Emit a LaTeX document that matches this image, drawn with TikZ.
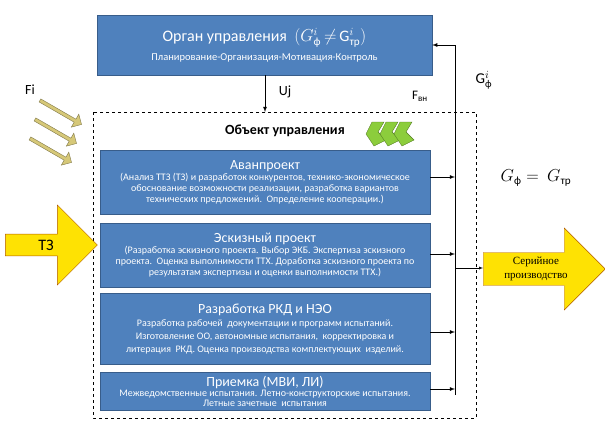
\documentclass[tikz,border=0pt]{standalone}
\usepackage{fontspec}
\setmainfont{Carlito}
\newfontfamily\serifru{Liberation Serif}
\usepackage{amsmath}
\usepackage{xcolor}
\usetikzlibrary{shapes.arrows}
\definecolor{boxblue}{RGB}{79,129,189}
\definecolor{boxedge}{RGB}{56,93,138}
\definecolor{gold}{RGB}{214,200,120}
\definecolor{leaf}{RGB}{140,205,60}
\tikzset{
  stage/.style = {draw = boxedge, fill = boxblue, text = white, minimum width = 330pt, align = center, inner sep = 1pt},
  bigarrow/.style = {single arrow, draw = orange!70!black, fill = yellow!85!orange, inner sep = 2pt},
}
\begin{document}
\begin{tikzpicture}[x = 1pt, y = -1pt]
        \useasboundingbox (0, 0) rectangle (605, 431);
        % control body
        \node (organ) at (264.5, 45) [stage, minimum width = 335pt, minimum height = 60pt, font = \fontsize{10.5}{12}\selectfont] {{\fontsize{16}{18}\selectfont Орган управления\ \ $(G^{i}_{\text{ф}}\,{\neq}\,\mathrm{G}^{i}_{\text{тр}})$}\\[5pt] Планирование-Организация-Мотивация-Контроль};
        % object frame
        \draw [dashed, thick] (93, 112) rectangle (476, 418);
        \node (obj) at (285, 131) [font = \bfseries\fontsize{14}{16}\selectfont] {Объект управления};
        \foreach \k in {0, 1, 2} {
            \fill [leaf, draw = leaf!60!black, thin] (372 + 14*\k, 122) -- (384 + 14*\k, 122) -- (378 + 14*\k, 132) -- (386 + 14*\k, 140) -- (374 + 14*\k, 146) -- (366 + 14*\k, 134) -- cycle;
        }
        % stages
        \node (avan) at (265, 182) [stage, minimum height = 64pt, font = \fontsize{10}{11}\selectfont] {{\fontsize{14}{16}\selectfont Аванпроект}\\ (Анализ ТТЗ (ТЗ) и разработок конкурентов, технико-экономическое\\ обоснование возможности реализации, разработка вариантов\\ технических предложений.\ \ Определение кооперации.)};
        \node (eskiz) at (265, 255) [stage, minimum height = 64pt, font = \fontsize{10}{11}\selectfont] {{\fontsize{14}{16}\selectfont Эскизный проект}\\ (Разработка эскизного проекта. Выбор ЭКБ. Экспертиза эскизного\\ проекта.\ \ Оценка выполнимости ТТХ. Доработка эскизного проекта по\\ результатам экспертизы и оценки выполнимости ТТХ.)};
        \node (rkd) at (265, 329) [stage, minimum height = 71pt, font = \fontsize{10}{13}\selectfont] {{\fontsize{14}{16}\selectfont Разработка РКД и НЭО}\\ Разработка рабочей\ \ документации и программ испытаний.\\ Изготовление ОО, автономные испытания,\ \ корректировка и\\ литерация\ \ РКД. Оценка производства комплектующих\ \ изделий.};
        \node (priem) at (265, 391) [stage, minimum height = 38pt, font = \fontsize{10}{10}\selectfont] {{\fontsize{14}{14}\selectfont Приемка (МВИ, ЛИ)}\\ Межведомственные испытания. Летно-конструкторские испытания.\\ Летные зачетные\ \ испытания};
        % feedback bus
        \coordinate (bustop) at (455, 45);
        \coordinate (busbot) at (455, 395);
        \draw [thick] (busbot) -- (bustop);
        \draw [-latex, thick] (bustop) -- (organ.east |- bustop);
        \foreach \n/\y in {avan/177, eskiz/254, rkd/332, priem/389} {
            \coordinate (t\n) at (455, \y);
            \draw [-latex, thick] (\n.east |- t\n) -- (t\n);
        }
        % control signal
        \coordinate (objtop) at (265, 112);
        \draw [-latex, thick] (organ.south -| objtop) -- (objtop);
        \node (uj) at (285, 92) [font = \fontsize{14}{16}\selectfont] {Uj};
        \node (fvn) at (420, 96) [font = \fontsize{13}{15}\selectfont] {F\textsubscript{вн}};
        \node (gfi) at (484, 80) [font = \fontsize{15}{17}\selectfont] {G$^{i}_{\text{ф}}$};
        \node (geq) at (536, 178) [font = \fontsize{16}{18}\selectfont] {$G_{\text{ф}} =\ G_{\text{тр}}$};
        % input and output
        \node (tz) at (46, 245) [bigarrow, minimum height = 92pt, minimum width = 80pt, single arrow head extend = 20pt, font = \fontsize{16}{18}\selectfont] {ТЗ\hspace{14pt}};
        \node (serial) at (536, 269) [bigarrow, minimum height = 122pt, minimum width = 82pt, single arrow head extend = 21pt, align = center, font = \serifru\fontsize{11}{14}\selectfont] {Серийное\\ производство\hspace{18pt}};
        \coordinate (tser) at (455, 268);
        \draw [-latex] (tser) -- (serial.west |- tser);
        % external disturbances
        \node (fi) at (30, 90) [font = \fontsize{14}{16}\selectfont] {Fi};
        \foreach \k in {0, 1, 2} {
            \node (fa\k) at (60 - 5*\k, 112 + 19*\k) [single arrow, draw = gold!60!black, fill = gold, minimum width = 15pt, minimum height = 48pt, single arrow head extend = 4pt, inner sep = 1pt, rotate = -30] {};
        }
    \end{tikzpicture}
\end{document}
